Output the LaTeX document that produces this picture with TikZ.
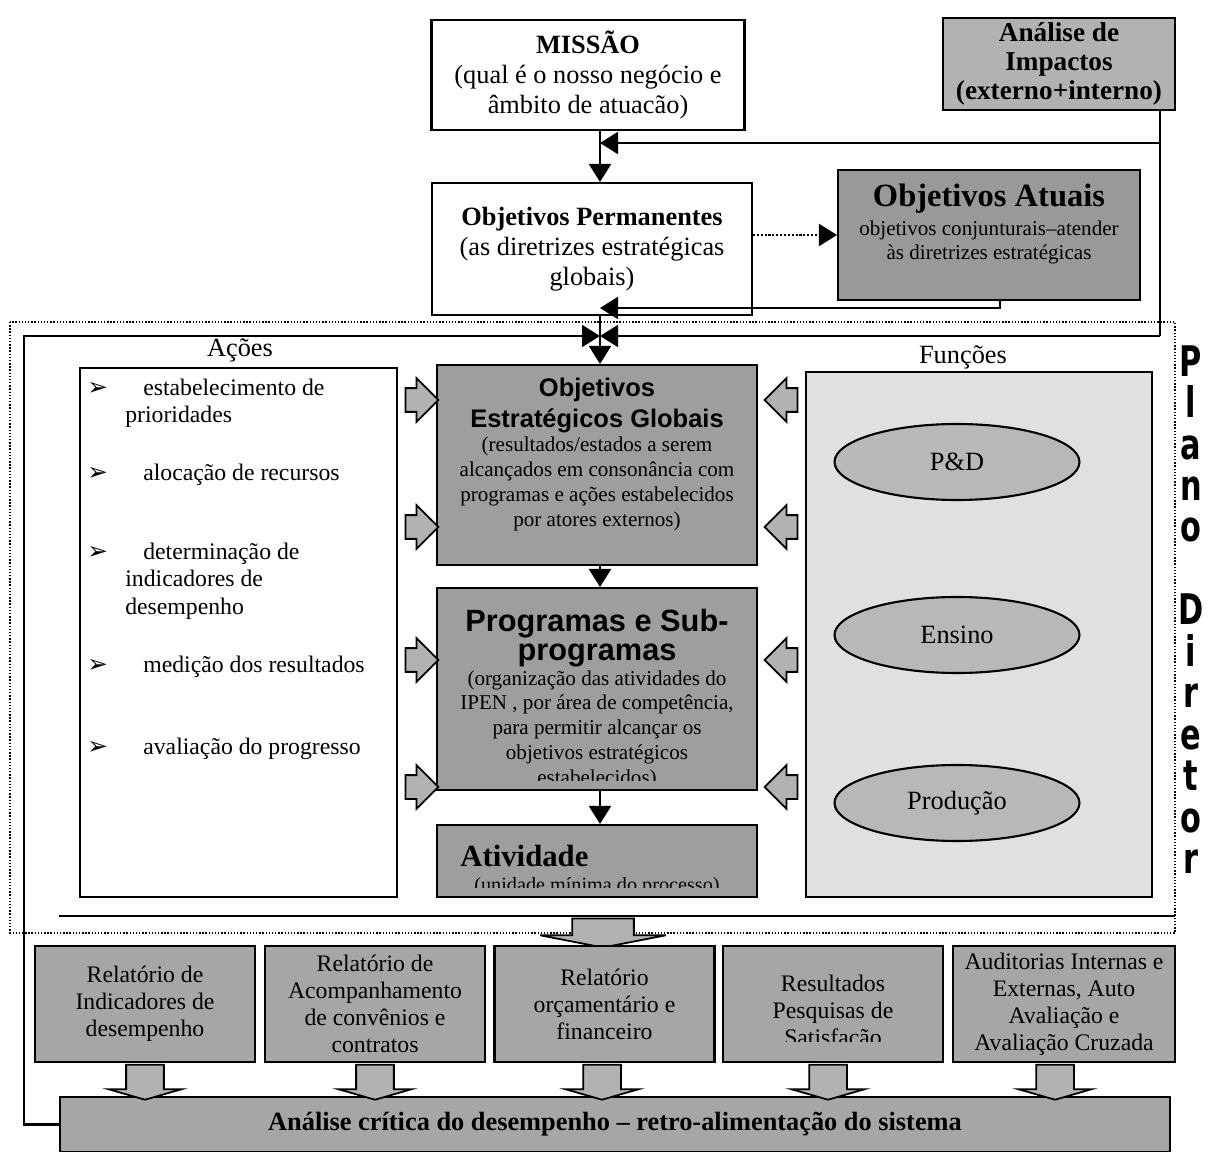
\documentclass[tikz,border=0pt]{standalone}
\usepackage{fontspec}
\setmainfont{Liberation Serif}
\setsansfont{Liberation Sans}
\newfontfamily\symfont{DejaVu Sans}
\newfontfamily\plfont{DejaVu Sans}
\usetikzlibrary{arrows.meta,shapes.geometric,shapes.arrows}
\newcommand\ttlfont{\sffamily\bfseries\fontsize{14.5}{17}\selectfont}
\newcommand\ttlbig{\sffamily\bfseries\fontsize{17.5}{19}\selectfont}
\newcommand\plt[1]{\scalebox{0.72}[1]{#1}}
\tikzset{
	arr/.style={-{Triangle[length=0.36cm,width=0.44cm]}, line width=1.2pt},
	box/.style={draw, line width=1.2pt, inner sep=0pt, align=center},
	fatr/.style={single arrow, draw, line width=1pt, fill=black!30, inner xsep=0pt, inner ysep=0.22cm, minimum width=0pt, minimum height=0.66cm, single arrow head extend=0.2cm},
	fatl/.style={fatr, rotate=180},
	fatd/.style={single arrow, draw, line width=1pt, fill=black!30, inner xsep=0pt, inner ysep=0.36cm, minimum width=0pt, rotate=-90, minimum height=0.7cm, single arrow head extend=0.35cm, single arrow tip angle=148},
	funcao/.style={ellipse, draw, line width=1.2pt, fill=black!28, minimum width=4.9cm, minimum height=1.52cm, inner sep=0pt, font=\fontsize{15}{17}\selectfont},
	relat/.style={box, minimum width=4.4cm, minimum height=2.32cm, fill=black!35, font=\fontsize{13.5}{15.3}\selectfont},
	item/.style={anchor=base west, inner sep=0pt, font=\fontsize{13.5}{15}\selectfont},
	bullet/.style={anchor=base west, inner sep=0pt, font=\symfont\fontsize{14}{16}\selectfont}
}

\begin{document}
\begin{tikzpicture}[x=0.02cm, y=-0.02cm]
	%%%%% START %%%%%
	\useasboundingbox (0,0) rectangle (1208,1152);
	
	\coordinate (spine) at (600,0);
	\coordinate (k1) at (1160,143);
	\coordinate (k2) at (1160,336);
	\coordinate (k3) at (1000,308);
	\coordinate (k4) at (24,336);
	
	% moldura do plano diretor
	\draw[densely dotted, line width=0.8pt] (10,322) rectangle (1175,933);
	\node[anchor=north, align=center, inner sep=0pt, font=\plfont\bfseries\fontsize{24}{23.6}\selectfont] (plano) at (1191,345) {\plt{P}\\\plt{l}\\\plt{a}\\\plt{n}\\\plt{o}\\[23.6pt]\plt{D}\\\plt{i}\\\plt{r}\\\plt{e}\\\plt{t}\\\plt{o}\\\plt{r}};
	
	% topo
	\node[box, minimum width=6.26cm, minimum height=2.2cm, fill=white, font=\fontsize{15}{17}\selectfont] (missao) at (588,75) {\textbf{MISSÃO}\\(qual é o nosso negócio e\\âmbito de atuacão)};
	\node[box, minimum width=4.64cm, minimum height=1.84cm, fill=black!30, font=\bfseries\fontsize{15.5}{16.5}\selectfont] (impactos) at (1059,64) {Análise de\\Impactos\\(externo+interno)};
	\node[box, minimum width=6.4cm, minimum height=2.64cm, fill=white, font=\fontsize{15}{17}\selectfont] (objperm) at (592,249) {\textbf{Objetivos Permanentes}\\(as diretrizes estratégicas\\globais)};
	\node[box, minimum width=6.04cm, minimum height=2.6cm, fill=black!40] (objatuais) at (989,235) {};
	\node[anchor=north, align=center, inner sep=0pt, font=\fontsize{12}{14}\selectfont] (objatuaistxt) at (989,184) {\fontsize{18.5}{20}\selectfont\bfseries Objetivos Atuais\\[2pt]objetivos conjunturais–atender\\às diretrizes estratégicas};
	
	\draw[arr] (missao.south -| spine) -- (objperm.north -| spine);
	\draw[line width=1.2pt] (impactos.south -| k1) -- (k2);
	\draw[arr] (k1) -- (k1 -| spine);
	\draw[arr] (k2) -- (k2 -| spine);
	\draw[arr, densely dotted] (objatuais.west -| objperm.east) -- (objatuais.west);
	\draw[arr] (objatuais.south -| k3) -- (k3) -- (k3 -| spine);
	
	% meio
	\node[font=\fontsize{15}{17}\selectfont] (acoestit) at (240,350) {Ações};
	\node[font=\fontsize{15}{17}\selectfont] (funcoestit) at (963,357) {Funções};
	
	\node[box, minimum width=6.34cm, minimum height=10.58cm, fill=white] (acoes) at (238.5,632.5) {};
	\node[bullet] (b1) at (87,396) {➢};
	\node[item] (i1) at (143,396) {estabelecimento de};
	\node[item] (i1b) at (125,422) {prioridades};
	\node[bullet] (b2) at (87,480) {➢};
	\node[item] (i2) at (143,480) {alocação de recursos};
	\node[bullet] (b3) at (87,559) {➢};
	\node[item] (i3) at (143,559) {determinação de};
	\node[item] (i3b) at (125,586) {indicadores de};
	\node[item] (i3c) at (125,614) {desempenho};
	\node[bullet] (b4) at (87,672) {➢};
	\node[item] (i4) at (143,672) {medição dos resultados};
	\node[bullet] (b5) at (87,754) {➢};
	\node[item] (i5) at (143,754) {avaliação do progresso};
	
	\node[box, minimum width=6.92cm, minimum height=10.5cm, fill=black!12] (funcoes) at (979,634.5) {};
	\node[funcao] (pd) at (957,462) {P\&D};
	\node[funcao] (ensino) at (957,635) {Ensino};
	\node[funcao] (producao) at (957,803) {Produção};
	
	\node[box, minimum width=6.4cm, minimum height=4cm, fill=black!38] (objestrat) at (597,465) {};
	\node[anchor=north, align=center, inner sep=0pt, font=\fontsize{12}{14.2}\selectfont] (objestrattxt) at (597,378) {\ttlfont Objetivos\\[3pt]\ttlfont Estratégicos Globais\\(resultados/estados a serem\\alcançados em consonância com\\programas e ações estabelecidos\\por atores externos)};
	
	\node[box, minimum width=6.4cm, minimum height=4.04cm, fill=black!38] (progsub) at (597,689) {};
	\begin{scope}
		\clip (progsub.north west) rectangle ([yshift=6pt]progsub.south east);
		\node[anchor=north, align=center, inner sep=0pt, font=\fontsize{12}{14.2}\selectfont] (progsubtxt) at (597,609) {\ttlbig Programas e Sub-\\[2pt]\ttlbig programas\\(organização das atividades do\\IPEN , por área de competência,\\para permitir alcançar os\\objetivos estratégicos\\estabelecidos)};
	\end{scope}
	
	\node[box, minimum width=6.4cm, minimum height=1.44cm, fill=black!38] (atividade) at (597,861) {};
	\begin{scope}
		\clip (atividade.north west) rectangle ([yshift=6pt]atividade.south east);
		\node[anchor=base west, inner sep=0pt, font=\bfseries\fontsize{17.5}{19}\selectfont] (ativtit) at (460,866) {Atividade};
		\node[anchor=base, inner sep=0pt, font=\fontsize{11.5}{13}\selectfont] (ativsub) at (597,891) {(unidade mínima do processo)};
	\end{scope}
	
	\draw[arr] (objperm.south -| spine) -- (objestrat.north -| spine);
	\draw[arr] (objestrat.south -| spine) -- (progsub.north -| spine);
	\draw[arr] (progsub.south -| spine) -- (atividade.north -| spine);
	
	\node[fatr] (ar1) at (416,400) {};
	\node[fatr] (ar2) at (416,527) {};
	\node[fatr] (ar3) at (416,660) {};
	\node[fatr] (ar4) at (416,787) {};
	\node[fatl] (al1) at (787,400) {};
	\node[fatl] (al2) at (787,527) {};
	\node[fatl] (al3) at (787,660) {};
	\node[fatl] (al4) at (787,787) {};
	
	\coordinate (s1) at (59,916);
	\coordinate (s2) at (1175,916);
	\draw[line width=1.2pt] (s1) -- (s2);
	\node[fatd, inner ysep=0.6cm, minimum height=0.58cm, single arrow head extend=0.64cm, single arrow tip angle=158] (desce) at (603,930) {};
	
	% relatorios
	\node[relat] (rel1) at (145,1004) {Relatório de\\Indicadores de\\desempenho};
	\node[relat] (rel2) at (375,1004) {Relatório de\\Acompanhamento\\de convênios e\\contratos};
	\node[relat] (rel3) at (604.5,1004) {Relatório\\orçamentário e\\financeiro};
	\node[relat] (rel4) at (833,1004) {};
	\begin{scope}
		\clip (rel4.north west) rectangle ([yshift=12.5pt]rel4.south east);
		\node[anchor=north, align=center, inner sep=0pt, font=\fontsize{13.5}{15.3}\selectfont] (rel4txt) at (833,975) {Resultados\\Pesquisas de\\Satisfação};
	\end{scope}
	\node[relat, minimum width=4.44cm] (rel5) at (1064,1004) {Auditorias Internas e\\Externas, Auto\\Avaliação e\\Avaliação Cruzada};
	
	\node[box, minimum width=22.2cm, minimum height=1.1cm, fill=black!35, font=\bfseries\fontsize{15}{17}\selectfont] (analise) at (615,1124.5) {Análise crítica do desempenho – retro-alimentação do sistema};
	
	\node[fatd] (d1) at (145,1079.5) {};
	\node[fatd] (d2) at (375,1079.5) {};
	\node[fatd] (d3) at (602,1079.5) {};
	\node[fatd] (d4) at (828,1079.5) {};
	\node[fatd] (d5) at (1055,1079.5) {};
	
	\draw[arr] (analise.west) -- (analise.west -| k4) -- (k4) -- (k4 -| spine);
	
	%%%%% END %%%%%
\end{tikzpicture}
\end{document}
